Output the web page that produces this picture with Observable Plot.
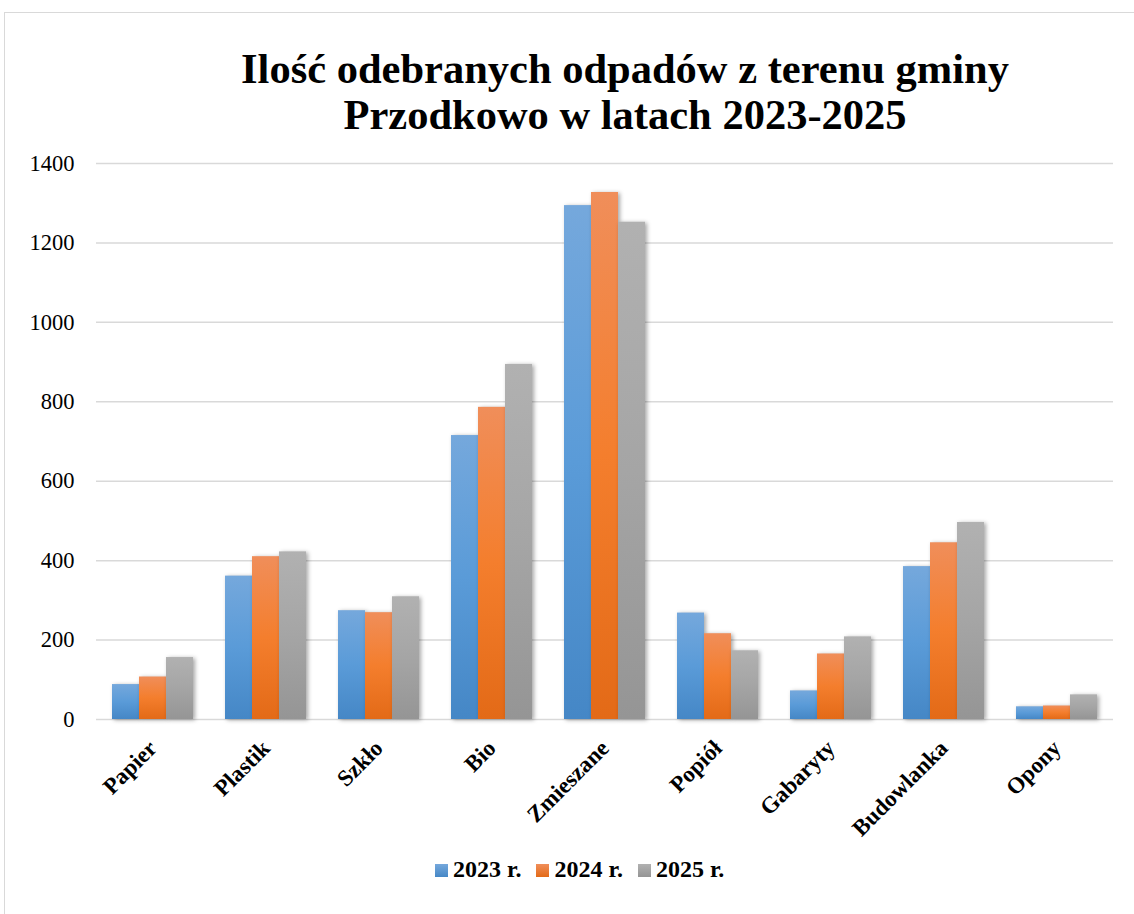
<!DOCTYPE html>
<html>
<head>
<meta charset="utf-8">
<script src="https://cdn.jsdelivr.net/npm/d3@7"></script>
<script src="https://cdn.jsdelivr.net/npm/@observablehq/plot@0.6"></script>
<style>
  html, body { margin: 0; padding: 0; background: #fff; }
  #wrap { position: relative; width: 1134px; height: 914px; overflow: hidden; font-family: "Liberation Serif", "Times New Roman", serif; }
  #frame { position: absolute; left: 4px; top: 12px; width: 1140px; height: 920px; border-top: 1.5px solid #d9d9d9; border-left: 1.5px solid #d9d9d9; box-sizing: border-box; }
  #title { position: absolute; left: 125px; width: 1000px; top: 46px; text-align: center; font-weight: bold; font-size: 42.5px; line-height: 46px; color: #000; }
  #chart { position: absolute; left: 0; top: 140px; }
  #legend { position: absolute; top: 856px; left: 435px; display: flex; align-items: center; font-weight: bold; font-size: 24px; color: #000; }
  .item { display: flex; align-items: center; margin-right: 15px; }
  .sw { width: 13px; height: 13px; margin-right: 5px; margin-top: 2px; }
  #chart g[aria-label="fx-axis tick label"] text { font-weight: bold; font-size: 23px; }
  #chart g[aria-label="y-axis tick label"] text { font-size: 22.5px; }
  #chart g[aria-label="bar"] rect { filter: drop-shadow(2px 1px 2px rgba(0,0,0,0.35)); }
</style>
</head>
<body>
<div id="wrap">
  <div id="frame"></div>
  <div id="title">Ilość odebranych odpadów z terenu gminy<br>Przodkowo w latach 2023-2025</div>
  <div id="chart"></div>
  <div id="legend"></div>
</div>
<script>
const categories = ["Papier", "Plastik", "Szkło", "Bio", "Zmieszane", "Popiół", "Gabaryty", "Budowlanka", "Opony"];
const years = ["2023 r.", "2024 r.", "2025 r."];
const values2023 = [88, 361, 274, 715, 1294, 268, 72, 385, 32];
const values2024 = [107, 410, 269, 786, 1327, 216, 165, 445, 34];
const values2025 = [156, 422, 309, 894, 1252, 173, 208, 496, 62];
const yTicks = [0, 200, 400, 600, 800, 1000, 1200, 1400];

const gradients = [
  {id: "g2023", stops: ["#75a8dc", "#5a9bd8", "#4587c6"]},
  {id: "g2024", stops: ["#f08e5a", "#f47e2d", "#e36a17"]},
  {id: "g2025", stops: ["#b1b1b1", "#a5a5a5", "#959595"]}
];

const series = [values2023, values2024, values2025];
const data = [];
categories.forEach((c, i) => {
  years.forEach((y, j) => data.push({category: c, year: y, value: series[j][i]}));
});

const plot = Plot.plot({
  width: 1134,
  height: 709,
  marginTop: 23,
  marginBottom: 130,
  marginLeft: 94,
  marginRight: 20,
  style: {fontFamily: "'Liberation Serif', 'Times New Roman', serif", fontSize: "22px", color: "#000", background: "transparent"},
  fx: {domain: categories, padding: 0, label: null, tickRotate: -45, tickSize: 0, tickPadding: 25},
  x: {domain: years, paddingInner: 0, paddingOuter: 0.54, axis: null},
  y: {domain: [0, 1400], ticks: yTicks, tickFormat: d => String(d), tickSize: 0, tickPadding: 22, label: null},
  color: {domain: years, range: gradients.map(g => `url(#${g.id})`)},
  marks: [
    Plot.gridY(yTicks, {stroke: "#d9d9d9", strokeOpacity: 1, strokeWidth: 1.5}),
    Plot.barY(data, {fx: "category", x: "year", y: "value", fill: "year"})
  ]
});

// gradient defs
const svg = d3.select(plot);
const defs = svg.insert("defs", ":first-child");
gradients.forEach(g => {
  const lg = defs.append("linearGradient").attr("id", g.id).attr("x1", 0).attr("y1", 0).attr("x2", 0).attr("y2", 1);
  lg.append("stop").attr("offset", "0%").attr("stop-color", g.stops[0]);
  lg.append("stop").attr("offset", "50%").attr("stop-color", g.stops[1]);
  lg.append("stop").attr("offset", "100%").attr("stop-color", g.stops[2]);
});

document.getElementById("chart").appendChild(plot);

const legend = d3.select("#legend");
years.forEach((y, j) => {
  const it = legend.append("div").attr("class", "item");
  it.append("div").attr("class", "sw").style("background", `linear-gradient(${gradients[j].stops[0]}, ${gradients[j].stops[2]})`);
  it.append("span").text(y);
});
</script>
</body>
</html>
